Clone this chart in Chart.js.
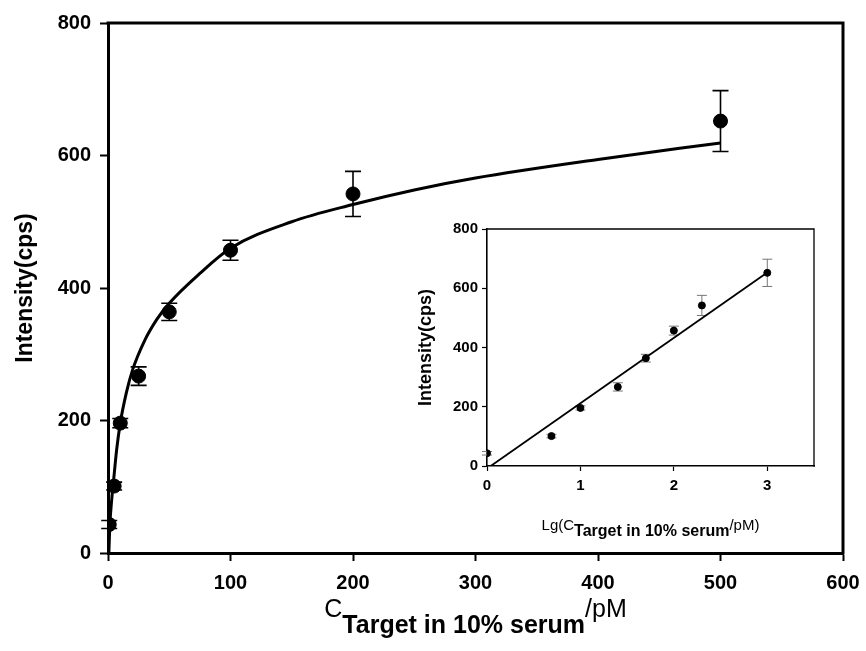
<!DOCTYPE html>
<html><head><meta charset="utf-8">
<script src="https://cdn.jsdelivr.net/npm/chart.js@4/dist/chart.umd.min.js"></script>
<style>
html,body{margin:0;padding:0;background:#fff;}
#wrap{position:relative;width:866px;height:651px;background:#fff;}
#main{position:absolute;left:0;top:0;}
#inset{position:absolute;left:400px;top:210px;}
</style></head><body>
<div id="wrap"><canvas id="main" width="866" height="651"></canvas><canvas id="inset" width="430" height="340"></canvas></div>
<script>
// ---- data ----
const concentration = [1, 5, 10, 25, 50, 100, 200, 500];
const intensity = [43, 101, 196, 267, 364, 457, 542, 652];
const intensityErr = [6, 6, 7, 14, 13, 15, 34, 46];
const lgConcentration = [0, 0.69, 1, 1.4, 1.7, 2, 2.3, 3];
const fitCurveX = [0.7, 1.5, 3, 5, 7, 10, 15, 20, 30, 40, 50, 75, 100, 150, 200, 250, 300, 400, 500];
const fitCurveY = [0, 42, 80, 118, 155, 196, 242, 276, 321, 353, 377, 422, 460, 500, 526, 548, 566, 594, 619];
const linearFitX = [0.04, 3];
const linearFitY = [0, 653];
const mainXTicks = [0, 100, 200, 300, 400, 500, 600];
const mainYTicks = [0, 200, 400, 600, 800];
const insetXTicks = [0, 1, 2, 3];
const insetYTicks = [0, 200, 400, 600, 800];

const FAM = "'Liberation Sans', Arial, Helvetica, sans-serif";
Chart.defaults.font.family = FAM;
Chart.defaults.color = '#000';

const pts = (xs, ys) => xs.map((v, i) => ({x: v, y: ys[i]}));

function errorBars(xs, ys, es, color, width, cap) {
  return {
    id: 'errorBars',
    beforeDatasetsDraw(chart) {
      const {ctx, scales: {x, y}} = chart;
      ctx.save();
      ctx.strokeStyle = color; ctx.lineWidth = width;
      ctx.beginPath();
      xs.forEach((v, i) => {
        const px = x.getPixelForValue(v);
        const t = y.getPixelForValue(ys[i] + es[i]);
        const b = y.getPixelForValue(ys[i] - es[i]);
        ctx.moveTo(px, t); ctx.lineTo(px, b);
        ctx.moveTo(px - cap, t); ctx.lineTo(px + cap, t);
        ctx.moveTo(px - cap, b); ctx.lineTo(px + cap, b);
      });
      ctx.stroke();
      ctx.restore();
    }
  };
}

function frame(width) {
  return {
    id: 'frame',
    afterDraw(chart) {
      const {ctx, chartArea: a} = chart;
      ctx.save();
      ctx.strokeStyle = '#000'; ctx.lineWidth = width;
      ctx.beginPath();
      ctx.moveTo(a.left - width / 2, a.top); ctx.lineTo(a.right, a.top); ctx.lineTo(a.right, a.bottom + width / 2);
      ctx.stroke();
      ctx.restore();
    }
  };
}

function mixedTitle(parts) {
  return {
    id: 'mixedTitle',
    afterDraw(chart) {
      const {ctx, chartArea: a} = chart;
      ctx.save();
      ctx.fillStyle = '#000';
      ctx.textBaseline = 'alphabetic';
      ctx.textAlign = 'left';
      let total = 0;
      parts.forEach(p => { ctx.font = p.font; p.w = ctx.measureText(p.text).width; total += p.w; });
      let x = (a.left + a.right) / 2 - total / 2;
      parts.forEach(p => { ctx.font = p.font; ctx.fillText(p.text, x, p.y); x += p.w; });
      ctx.restore();
    }
  };
}

function axis(opts) {
  return {
    type: 'linear',
    min: opts.min, max: opts.max,
    afterBuildTicks: s => { s.ticks = opts.ticks.map(v => ({value: v})); },
    afterFit: s => {
      if (opts.w) s.width = opts.w;
      if (opts.h) s.height = opts.h;
      s.paddingLeft = 0; s.paddingRight = 0; s.paddingTop = 0; s.paddingBottom = 0;
    },
    grid: {display: true, drawOnChartArea: false, drawTicks: true, tickLength: opts.tickLen,
           tickWidth: opts.tickWidth, tickColor: '#000', color: '#000'},
    border: {display: true, width: opts.border, color: '#000'},
    ticks: {font: {size: opts.fontSize, weight: 'bold'}, padding: opts.pad, color: '#000', maxRotation: 0, autoSkip: false},
    title: opts.title ? {display: true, text: opts.title, font: {size: opts.titleSize, weight: 'bold'}, padding: {top: opts.titlePad, bottom: 0}, color: '#000'} : {display: false}
  };
}

new Chart(document.getElementById('main'), {
  type: 'scatter',
  data: {
    datasets: [
      {type: 'line', data: pts(fitCurveX, fitCurveY), borderColor: '#000', borderWidth: 3, pointRadius: 0,
       cubicInterpolationMode: 'monotone', fill: false},
      {data: pts(concentration, intensity), backgroundColor: '#000', borderColor: '#000', pointRadius: 7, pointHoverRadius: 7}
    ]
  },
  options: {
    responsive: false, animation: false, events: [],
    layout: {padding: {left: 0, right: 23, top: 23, bottom: 0}},
    plugins: {legend: {display: false}, tooltip: {enabled: false}},
    scales: {
      x: axis({min: 0, max: 600, ticks: mainXTicks, h: 98, tickLen: 8, tickWidth: 2, border: 3, fontSize: 20, pad: 10}),
      y: axis({min: 0, max: 800, ticks: mainYTicks, w: 108, tickLen: 8, tickWidth: 2, border: 3, fontSize: 20, pad: 9,
               title: 'Intensity(cps)', titleSize: 23, titlePad: 12})
    }
  },
  plugins: [
    errorBars(concentration, intensity, intensityErr, '#000', 1.6, 8),
    frame(3),
    mixedTitle([
      {text: 'C', font: `25px ${FAM}`, y: 617},
      {text: 'Target in 10% serum', font: `bold 25px ${FAM}`, y: 633},
      {text: '/pM', font: `25px ${FAM}`, y: 617}
    ])
  ]
});

new Chart(document.getElementById('inset'), {
  type: 'scatter',
  data: {
    datasets: [
      {type: 'line', data: pts(linearFitX, linearFitY), borderColor: '#000', borderWidth: 1.8, pointRadius: 0, fill: false},
      {data: pts(lgConcentration, intensity), backgroundColor: '#000', borderColor: '#000', pointRadius: 3.5, pointHoverRadius: 3.5}
    ]
  },
  options: {
    responsive: false, animation: false, events: [],
    layout: {padding: {left: 0, right: 16, top: 19, bottom: 0}},
    plugins: {legend: {display: false}, tooltip: {enabled: false}},
    scales: {
      x: axis({min: 0, max: 3.5, ticks: insetXTicks, h: 84, tickLen: 5, tickWidth: 1.2, border: 1.6, fontSize: 15, pad: 6}),
      y: axis({min: 0, max: 800, ticks: insetYTicks, w: 87, tickLen: 5, tickWidth: 1.2, border: 1.6, fontSize: 15, pad: 4,
               title: 'Intensity(cps)', titleSize: 18, titlePad: 15})
    }
  },
  plugins: [
    errorBars(lgConcentration, intensity, intensityErr, '#777', 1, 5),
    frame(1.3),
    mixedTitle([
      {text: 'Lg(C', font: `15px ${FAM}`, y: 320},
      {text: 'Target in 10% serum', font: `bold 16px ${FAM}`, y: 326},
      {text: '/pM)', font: `15px ${FAM}`, y: 320}
    ])
  ]
});
</script>
</body></html>
